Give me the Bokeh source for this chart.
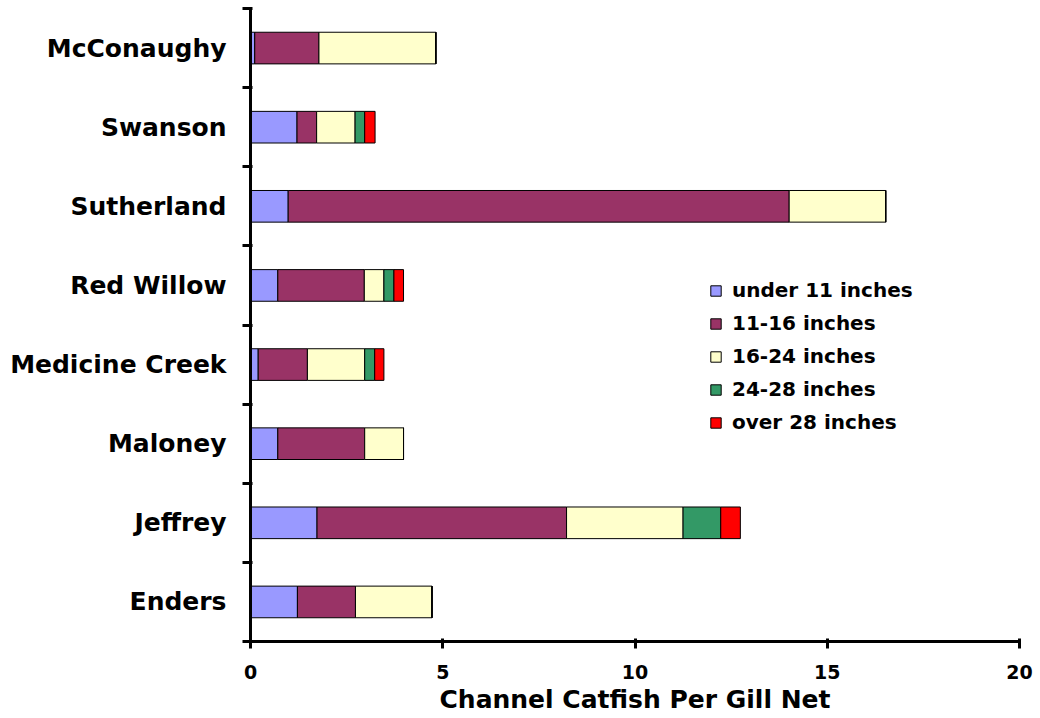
from bokeh.plotting import figure
from bokeh.models import ColumnDataSource, FixedTicker, Range1d, Legend
from bokeh.embed import file_html
from bokeh.resources import INLINE

lakes = ["Enders", "Jeffrey", "Maloney", "Medicine Creek", "Red Willow",
         "Sutherland", "Swanson", "McConaughy"]
under_11 = [1.22, 1.73, 0.71, 0.20, 0.71, 0.98, 1.21, 0.11]
in_11_16 = [1.51, 6.49, 2.26, 1.28, 2.25, 13.03, 0.51, 1.67]
in_16_24 = [1.99, 3.03, 1.01, 1.49, 0.51, 2.51, 1.00, 3.04]
in_24_28 = [0.00, 0.98, 0.00, 0.26, 0.26, 0.00, 0.25, 0.00]
over_28 = [0.00, 0.51, 0.00, 0.24, 0.25, 0.00, 0.27, 0.00]
series_labels = ["under 11 inches", "11-16 inches", "16-24 inches",
                 "24-28 inches", "over 28 inches"]
colors = ["#9999FF", "#993366", "#FFFFCC", "#339966", "#FF0000"]
x_ticks = [0, 5, 10, 15, 20]

FONT = "DejaVu Sans"
keys = ["u11", "a", "b", "c", "o28"]
ypos = [i + 0.5 for i in range(len(lakes))]
source = ColumnDataSource(dict(y=ypos, u11=under_11, a=in_11_16, b=in_16_24,
                               c=in_24_28, o28=over_28))

p = figure(width=1040, height=718, output_backend="svg", toolbar_location=None,
           x_range=Range1d(0, 20), y_range=Range1d(0, len(lakes)),
           min_border_left=250, min_border_right=21, min_border_top=8,
           min_border_bottom=77)
p.outline_line_color = None
p.xgrid.visible = False
p.ygrid.visible = False

renderers = p.hbar_stack(keys, y="y", height=0.4, color=colors, source=source,
                         line_color="black", line_width=1)

legend = Legend(items=[(lab, [r]) for lab, r in zip(series_labels, renderers)],
                location=(459, 207), border_line_color=None,
                background_fill_alpha=0, padding=0, margin=0,
                label_text_font=FONT, label_text_font_style="bold",
                label_text_color="black",
                label_text_font_size="20px", glyph_width=13, glyph_height=13,
                label_height=20, spacing=9, label_standoff=10)
p.add_layout(legend, "center")

# x axis
xa = p.xaxis[0]
xa.ticker = FixedTicker(ticks=x_ticks)
xa.axis_line_width = 3
xa.axis_line_color = "black"
xa.major_tick_line_width = 3
xa.major_tick_line_color = "black"
xa.major_tick_out = 7
xa.major_tick_in = 3
xa.minor_tick_line_color = None
xa.major_label_text_font = FONT
xa.major_label_text_font_style = "bold"
xa.major_label_text_font_size = "19px"
xa.major_label_text_color = "black"
xa.major_label_standoff = 16
xa.axis_label = "Channel Catfish Per Gill Net"
xa.axis_label_text_font = FONT
xa.axis_label_text_font_style = "bold"
xa.axis_label_text_font_size = "25px"
xa.axis_label_text_color = "black"
xa.axis_label_standoff = 3

# y axis
ya = p.yaxis[0]
ya.ticker = FixedTicker(ticks=ypos, minor_ticks=list(range(len(lakes) + 1)))
ya.major_label_overrides = {y: name for y, name in zip(ypos, lakes)}
ya.axis_line_width = 3
ya.axis_line_color = "black"
ya.major_tick_line_color = None
ya.major_tick_out = 0
ya.major_tick_in = 0
ya.minor_tick_line_width = 3
ya.minor_tick_line_color = "black"
ya.minor_tick_out = 8
ya.minor_tick_in = 2
ya.major_label_text_font = FONT
ya.major_label_text_font_style = "bold"
ya.major_label_text_font_size = "25px"
ya.major_label_text_color = "black"
ya.major_label_standoff = 16

open("out.html", "w").write(file_html(p, INLINE))
